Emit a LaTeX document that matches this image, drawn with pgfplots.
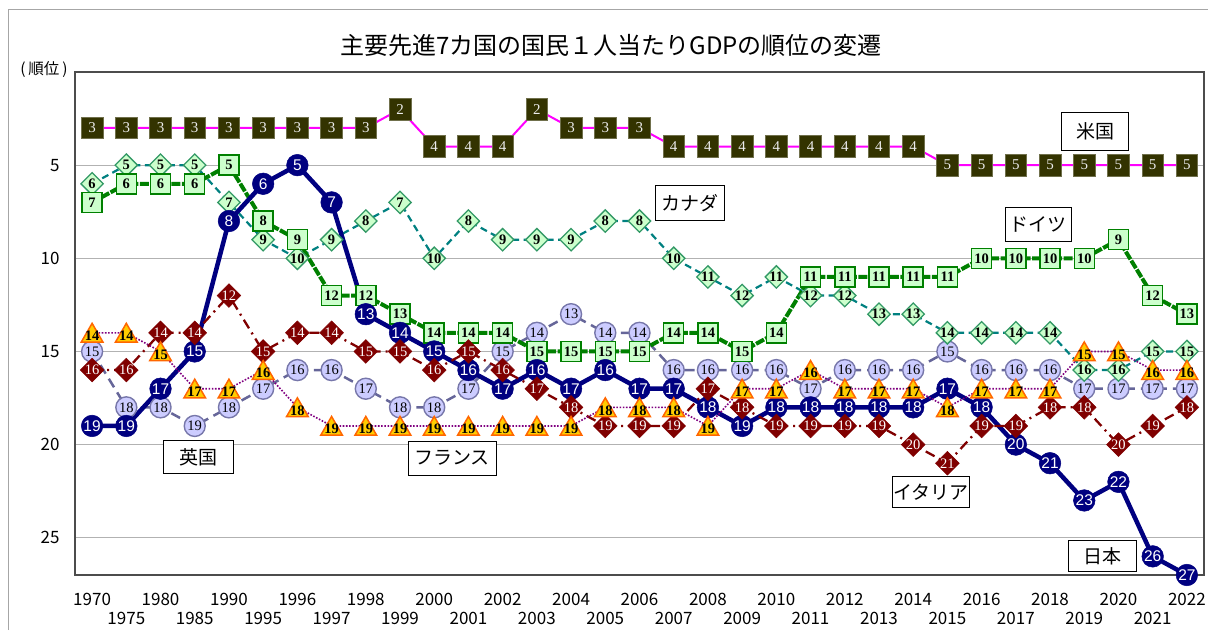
\documentclass[border=0pt]{standalone}
\usepackage{fontspec}
\setmainfont{Noto Sans CJK JP}
\newfontfamily\lblserif{Liberation Serif}
\newfontfamily\lblsans{Liberation Sans}
\usepackage{pgfplots}
\pgfplotsset{compat=1.18}
\usepackage{pgfplotstable}

\definecolor{usfill}{HTML}{333300}
\definecolor{usline}{HTML}{FF00FF}
\definecolor{jpcol}{HTML}{000080}
\definecolor{decol}{HTML}{008000}
\definecolor{defill}{HTML}{CCFFCC}
\definecolor{caline}{HTML}{008080}
\definecolor{caedge}{HTML}{339966}
\definecolor{cafill}{HTML}{CCFFCC}
\definecolor{ukline}{HTML}{666699}
\definecolor{ukedge}{HTML}{7777AA}
\definecolor{ukfill}{HTML}{CCCCFF}
\definecolor{frline}{HTML}{800080}
\definecolor{fredge}{HTML}{FF6600}
\definecolor{frfill}{HTML}{FFCC00}
\definecolor{itcol}{HTML}{800000}

\pgfplotstableread{
idx US JP DE CA UK FR IT
0 3 19 7 6 15 14 16
1 3 19 6 5 18 14 16
2 3 17 6 5 18 15 14
3 3 15 6 5 19 17 14
4 3 8 5 7 18 17 12
5 3 6 8 9 17 16 15
6 3 5 9 10 16 18 14
7 3 7 12 9 16 19 14
8 3 13 12 8 17 19 15
9 2 14 13 7 18 19 15
10 4 15 14 10 18 19 16
11 4 16 14 8 17 19 15
12 4 17 14 9 15 19 16
13 2 16 15 9 14 19 17
14 3 17 15 9 13 19 18
15 3 16 15 8 14 18 19
16 3 17 15 8 14 18 19
17 4 17 14 10 16 18 19
18 4 18 14 11 16 19 17
19 4 19 15 12 16 17 18
20 4 18 14 11 16 17 19
21 4 18 11 12 17 16 19
22 4 18 11 12 16 17 19
23 4 18 11 13 16 17 19
24 4 18 11 13 16 17 20
25 5 17 11 14 15 18 21
26 5 18 10 14 16 17 19
27 5 20 10 14 16 17 19
28 5 21 10 14 16 17 18
29 5 23 10 16 17 15 18
30 5 22 9 16 17 15 20
31 5 26 12 15 17 16 19
32 5 27 13 15 17 16 18
}\ranks

\begin{document}
\begin{tikzpicture}
\useasboundingbox (0pt,0pt) rectangle (1208pt,630pt);
\draw[gray!70, line width=1pt] (8pt,0pt) -- (8pt,620pt) -- (1208pt,620pt);
\node[font=\fontsize{24}{24}\selectfont] at (611pt,585pt) {主要先進7カ国の国民１人当たりGDPの順位の変遷};
\node[font=\fontsize{15.5}{15.5}\selectfont, inner sep=0pt] at (44pt,560pt) {(\hspace{3pt}順位\hspace{3pt})};
\begin{axis}[
  at={(75pt,55pt)}, anchor=south west,
  width=1129pt, height=503pt, scale only axis,
  xmin=-0.5, xmax=32.5, ymin=0, ymax=27, y dir=reverse,
  /pgf/number format/assume math mode=true,
  ytick={5,10,15,20,25},
  xtick={0,2,...,32},
  xticklabels={1970,1980,1990,1996,1998,2000,2002,2004,2006,2008,2010,2012,2014,2016,2018,2020,2022},
  extra x ticks={1,3,...,31},
  extra x tick labels={1975,1985,1995,1997,1999,2001,2003,2005,2007,2009,2011,2013,2015,2017,2019,2021},
  extra x tick style={xticklabel style={yshift=-19pt}},
  xticklabel style={font=\fontsize{17}{17}\selectfont, yshift=-15pt},
  yticklabel style={font=\fontsize{17}{17}\selectfont, xshift=-12pt},
  tick style={draw=none},
  ymajorgrids, grid style={gray!60, line width=0.8pt},
  axis line style={draw=black!70, line width=1.6pt},
  clip=false,
]
% US
\addplot[usline, line width=2pt, mark=square*, mark size=10.8pt,
  mark options={solid, fill=usfill, draw=usfill!70!white, line width=0.6pt},
  nodes near coords, point meta=y, nodes near coords align=center,
  every node near coord/.append style={anchor=center, inner sep=0pt, font=\fontsize{15}{15}\lblserif, text=gray!15}]
  table[x=idx,y=US]{\ranks};
% UK
\addplot[ukline, line width=2.5pt, dash pattern=on 10pt off 6pt, mark=*, mark size=10.5pt,
  mark options={solid, fill=ukfill, draw=ukedge, line width=1.4pt},
  nodes near coords, point meta=y, nodes near coords align=center,
  every node near coord/.append style={anchor=center, inner sep=0pt, font=\fontsize{14.5}{14.5}\lblserif, text=black}]
  table[x=idx,y=UK]{\ranks};
% Canada
\addplot[caline, line width=2.2pt, dash pattern=on 7pt off 4.5pt, mark=square*, mark size=7.9pt,
  mark options={solid, rotate=45, fill=cafill, draw=caedge, line width=1.3pt},
  nodes near coords, point meta=y, nodes near coords align=center,
  every node near coord/.append style={anchor=center, inner sep=0pt, font=\fontsize{14.5}{14.5}\lblserif\bfseries, text=black}]
  table[x=idx,y=CA]{\ranks};
% Germany
\addplot[decol, line width=4pt, dash pattern=on 9pt off 1.5pt, mark=square*, mark size=10pt,
  mark options={solid, fill=defill, draw=decol, line width=1.5pt},
  nodes near coords, point meta=y, nodes near coords align=center,
  every node near coord/.append style={anchor=center, inner sep=0pt, font=\fontsize{14.5}{14.5}\lblserif\bfseries, text=black}]
  table[x=idx,y=DE]{\ranks};
% Japan
\addplot[jpcol, line width=4.5pt, mark=*, mark size=10.8pt,
  mark options={solid, fill=jpcol, draw=jpcol, line width=0.5pt},
  nodes near coords, point meta=y, nodes near coords align=center,
  every node near coord/.append style={anchor=center, inner sep=0pt, font=\fontsize{15.5}{15.5}\lblsans, text=white}]
  table[x=idx,y=JP]{\ranks};
% Italy
\addplot[itcol, line width=2.3pt, dash pattern=on 10pt off 5pt on 2pt off 5pt, mark=square*, mark size=8.4pt,
  mark options={solid, rotate=45, fill=itcol, draw=itcol, line width=0.5pt},
  nodes near coords, point meta=y, nodes near coords align=center,
  every node near coord/.append style={anchor=center, inner sep=0pt, font=\fontsize{14.5}{14.5}\lblserif, text=white}]
  table[x=idx,y=IT]{\ranks};
% France
\addplot[frline, line width=1.6pt, dash pattern=on 1.6pt off 1.6pt, mark=triangle*, mark size=12.5pt,
  mark options={solid, yshift=-3pt, fill=frfill, draw=fredge, line width=1.5pt},
  nodes near coords, point meta=y, nodes near coords align=center,
  every node near coord/.append style={anchor=center, inner sep=0pt, font=\fontsize{14.5}{14.5}\lblserif\bfseries, text=black}]
  table[x=idx,y=FR]{\ranks};

\tikzset{lbox/.style={draw=black, fill=white, line width=0.9pt, inner sep=0pt, font=\fontsize{19}{19}\selectfont}}
\node[lbox, minimum width=67pt, minimum height=38pt] at (axis cs:29.32,3.17) {米国};
\node[lbox, minimum width=69pt, minimum height=35pt] at (axis cs:17.48,7.03) {カナダ};
\node[lbox, minimum width=66pt, minimum height=34pt] at (axis cs:27.65,8.16) {ドイツ};
\node[lbox, minimum width=70pt, minimum height=33pt] at (axis cs:3.10,20.67) {英国};
\node[lbox, minimum width=88pt, minimum height=34pt] at (axis cs:10.52,20.72) {フランス};
\node[lbox, minimum width=77pt, minimum height=31pt] at (axis cs:24.52,22.55) {イタリア};
\node[lbox, minimum width=68pt, minimum height=31pt] at (axis cs:29.52,25.98) {日本};
\end{axis}
\end{tikzpicture}
\end{document}
